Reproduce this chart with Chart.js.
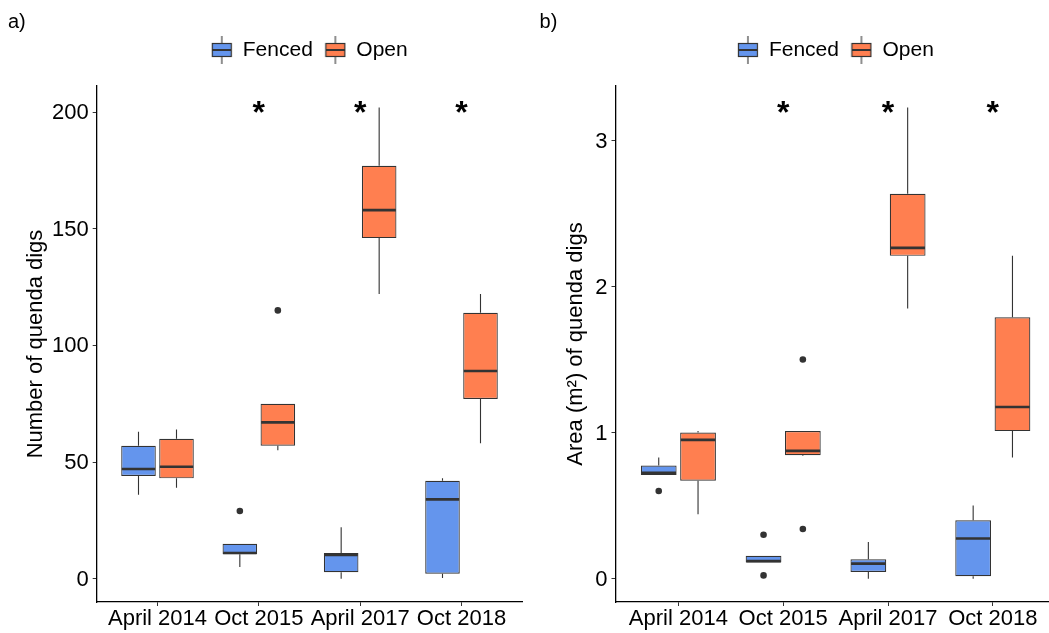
<!DOCTYPE html>
<html><head><meta charset="utf-8">
<script src="https://cdn.jsdelivr.net/npm/chart.js@4.4.1/dist/chart.umd.min.js"></script>
<style>
html,body{margin:0;padding:0;background:#fff;overflow:hidden;width:1049px;height:633px;}
#wrapA{position:absolute;left:0;top:0;width:530px;height:633px;}
#wrapB{position:absolute;left:531px;top:0;width:530px;height:633px;}
canvas{display:block;}
</style></head><body>
<div id="wrapA"><canvas id="cA" width="530" height="633"></canvas></div>
<div id="wrapB"><canvas id="cB" width="530" height="633"></canvas></div>
<script>
// ---------- data ----------
const categories = ['April 2014', 'Oct 2015', 'April 2017', 'Oct 2018'];
const seriesNames = ['Fenced', 'Open'];
const seriesColors = ['#6495ED', '#FF7F50'];

// a) Number of quenda digs
const countFencedLow  = [36, 5, 0, 0.3];
const countFencedQ1   = [44, 10.5, 2.8, 2.1];
const countFencedMed  = [47, 11, 10.2, 34];
const countFencedQ3   = [57, 15, 11, 42];
const countFencedHigh = [63, 15, 22, 43];
const countFencedOut  = [[], [29], [], []];
const countOpenLow    = [39, 55, 122, 58];
const countOpenQ1     = [43, 57, 146, 77];
const countOpenMed    = [48, 67, 158, 89];
const countOpenQ3     = [60, 75, 177, 114];
const countOpenHigh   = [64, 75, 202, 122];
const countOpenOut    = [[], [115], [], []];
const countTicks = [0, 50, 100, 150, 200];
const countSigLabels = ['', '*', '*', '*'];
const countSigY = 203.4;

// b) Area (m2) of quenda digs
const areaFencedLow  = [0.71, 0.11, 0.0, 0.0];
const areaFencedQ1   = [0.71, 0.11, 0.045, 0.017];
const areaFencedMed  = [0.725, 0.12, 0.103, 0.275];
const areaFencedQ3   = [0.775, 0.157, 0.133, 0.40];
const areaFencedHigh = [0.83, 0.157, 0.25, 0.50];
const areaFencedOut  = [[0.60], [0.30, 0.022], [], []];
const areaOpenLow    = [0.44, 0.84, 1.85, 0.83];
const areaOpenQ1     = [0.67, 0.845, 2.21, 1.01];
const areaOpenMed    = [0.95, 0.875, 2.265, 1.175];
const areaOpenQ3     = [1.0, 1.01, 2.635, 1.79];
const areaOpenHigh   = [1.01, 1.01, 3.225, 2.21];
const areaOpenOut    = [[], [1.50, 0.34], [], []];
const areaTicks = [0, 1, 2, 3];
const areaSigLabels = ['', '*', '*', '*'];
const areaSigY = 3.25;

// ---------- styling ----------
const FONT = "'Liberation Sans', Arial, Helvetica, sans-serif";
const INK = '#333333';

function legendIcon(color) {
  const c = document.createElement('canvas');
  c.width = 22; c.height = 28;
  const g = c.getContext('2d');
  g.strokeStyle = INK; g.lineWidth = 1.1;
  g.beginPath(); g.moveTo(11, 0); g.lineTo(11, 7); g.moveTo(11, 21); g.lineTo(11, 28); g.stroke();
  g.fillStyle = color; g.fillRect(1.5, 7.5, 19, 13);
  g.lineWidth = 1.2; g.strokeRect(1.5, 7.5, 19, 13);
  g.lineWidth = 2; g.beginPath(); g.moveTo(1.5, 14); g.lineTo(20.5, 14); g.stroke();
  return c;
}

const boxExtras = {
  id: 'boxExtras',
  beforeDatasetsDraw(chart) {
    const ctx = chart.ctx, ys = chart.scales.y;
    ctx.save();
    ctx.strokeStyle = INK; ctx.lineWidth = 1.1;
    chart.data.datasets.forEach((ds, di) => {
      const s = ds.stats;
      chart.getDatasetMeta(di).data.forEach((bar, i) => {
        const x = bar.x;
        ctx.beginPath();
        ctx.moveTo(x, ys.getPixelForValue(s.high[i])); ctx.lineTo(x, ys.getPixelForValue(s.q3[i]));
        ctx.moveTo(x, ys.getPixelForValue(s.q1[i])); ctx.lineTo(x, ys.getPixelForValue(s.low[i]));
        ctx.stroke();
      });
    });
    ctx.restore();
  },
  afterDatasetsDraw(chart, args, opts) {
    const ctx = chart.ctx, ys = chart.scales.y, xs = chart.scales.x;
    ctx.save();
    chart.data.datasets.forEach((ds, di) => {
      const s = ds.stats;
      chart.getDatasetMeta(di).data.forEach((bar, i) => {
        const half = bar.width / 2;
        const ym = ys.getPixelForValue(s.med[i]);
        ctx.strokeStyle = INK; ctx.lineWidth = 2.6;
        ctx.beginPath(); ctx.moveTo(bar.x - half + 0.6, ym); ctx.lineTo(bar.x + half - 0.6, ym); ctx.stroke();
        ctx.fillStyle = INK;
        s.out[i].forEach(v => {
          ctx.beginPath(); ctx.arc(bar.x, ys.getPixelForValue(v), 3.3, 0, Math.PI * 2); ctx.fill();
        });
      });
    });
    // significance markers
    const size = opts.sigSize || 32;
    ctx.fillStyle = '#000';
    ctx.font = 'bold ' + size + 'px ' + FONT;
    ctx.textAlign = 'center'; ctx.textBaseline = 'alphabetic';
    opts.sigLabels.forEach((t, i) => {
      if (!t) return;
      const x = xs.getPixelForValue(i + 1);
      const y = ys.getPixelForValue(opts.sigY) + 0.6 * size;
      ctx.fillText(t, x, y);
    });
    ctx.restore();
  }
};

function makeChart(id, cfg) {
  const mk = (label, color, st) => ({
    label, stats: st,
    data: categories.map((c, i) => ({ x: i + 1, y: [st.q1[i], st.q3[i]] })),
    backgroundColor: color, borderColor: INK, borderWidth: 1.2, borderSkipped: false,
    categoryPercentage: 0.75, barPercentage: 0.91
  });
  const axisGrid = { drawOnChartArea: false, drawTicks: true, tickLength: 4, color: INK, lineWidth: 1, offset: false };
  const axisBorder = { display: true, color: '#000', width: 1.3 };
  return new Chart(document.getElementById(id), {
    type: 'bar',
    data: {
      datasets: [mk(seriesNames[0], seriesColors[0], cfg.fenced), mk(seriesNames[1], seriesColors[1], cfg.open)]
    },
    plugins: [boxExtras],
    options: {
      responsive: false, animation: false,
      layout: { padding: { left: cfg.padLeft, right: cfg.padRight, top: 0, bottom: 0 } },
      plugins: {
        tooltip: { enabled: false },
        title: { display: true, text: cfg.panel, align: 'start', color: '#000',
                 font: { family: FONT, size: 20, lineHeight: 0.55, weight: 'normal' }, padding: { top: 16.5, bottom: 0 } },
        subtitle: { display: true, text: '', weight: 500, font: { size: 10, lineHeight: 1 }, padding: { top: 5.5, bottom: 0 } },
        legend: {
          display: true, position: 'top', fullSize: false, weight: 1000,
          labels: {
            usePointStyle: true, padding: 12, color: '#000',
            font: { family: FONT, size: 21 },
            generateLabels: (chart) => chart.data.datasets.map((ds, i) => ({
              text: ds.label, pointStyle: legendIcon(ds.backgroundColor), fillStyle: ds.backgroundColor,
              strokeStyle: INK, lineWidth: 0, hidden: false, datasetIndex: i, fontColor: '#000'
            }))
          }
        },
        boxExtras: { sigLabels: cfg.sigLabels, sigY: cfg.sigY, sigSize: 32 }
      },
      scales: {
        x: {
          type: 'linear', min: 0.4, max: 4.6, offset: false,
          afterBuildTicks: (s) => { s.ticks = categories.map((c, i) => ({ value: i + 1 })); },
          afterFit: (s) => { s.height = 31; },
          grid: axisGrid, border: axisBorder,
          ticks: { autoSkip: false, maxRotation: 0, padding: 0, color: '#000', font: { family: FONT, size: 22 },
                   callback: (v) => categories[Math.round(v) - 1] }
        },
        y: {
          type: 'linear', min: cfg.yMin, max: cfg.yMax, beginAtZero: false,
          afterBuildTicks: (s) => { s.ticks = cfg.ticks.map(v => ({ value: v })); },
          afterFit: (s) => { s.width = cfg.yWidth; },
          grid: axisGrid, border: axisBorder,
          ticks: { padding: 4, labelOffset: 1, color: '#000', font: { family: FONT, size: 22 } },
          title: { display: true, text: cfg.yTitle, color: '#000', font: { family: FONT, size: 22 },
                   padding: { top: cfg.titlePad, bottom: 0 } }
        }
      }
    }
  });
}

makeChart('cA', {
  panel: 'a)', yTitle: 'Number of quenda digs', yMin: -10, yMax: 211.2, ticks: countTicks,
  sigLabels: countSigLabels, sigY: countSigY, padLeft: 8, padRight: 7.7, yWidth: 88.7, titlePad: 14.8,
  fenced: { low: countFencedLow, q1: countFencedQ1, med: countFencedMed, q3: countFencedQ3, high: countFencedHigh, out: countFencedOut },
  open:   { low: countOpenLow, q1: countOpenQ1, med: countOpenMed, q3: countOpenQ3, high: countOpenHigh, out: countOpenOut }
});
makeChart('cB', {
  panel: 'b)', yTitle: 'Area (m²) of quenda digs', yMin: -0.16, yMax: 3.373, ticks: areaTicks,
  sigLabels: areaSigLabels, sigY: areaSigY, padLeft: 8.6, padRight: 5.3, yWidth: 75.9, titlePad: 23.2,
  fenced: { low: areaFencedLow, q1: areaFencedQ1, med: areaFencedMed, q3: areaFencedQ3, high: areaFencedHigh, out: areaFencedOut },
  open:   { low: areaOpenLow, q1: areaOpenQ1, med: areaOpenMed, q3: areaOpenQ3, high: areaOpenHigh, out: areaOpenOut }
});
</script>
</body></html>
